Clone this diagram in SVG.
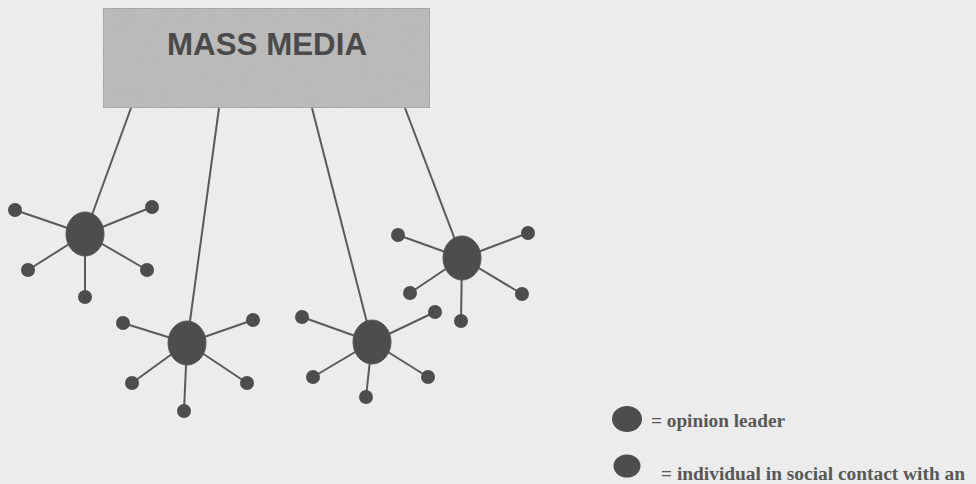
<svg xmlns="http://www.w3.org/2000/svg" width="976" height="484" viewBox="0 0 976 484">
<defs>
<filter id="tex" x="0" y="0" width="100%" height="100%">
<feTurbulence type="fractalNoise" baseFrequency="0.8" numOctaves="2" seed="3" result="n"/>
<feColorMatrix in="n" type="matrix" values="0 0 0 0 0.5  0 0 0 0 0.5  0 0 0 0 0.5  0.9 0 0 0 -0.25" result="g"/>
<feComposite in="g" in2="SourceGraphic" operator="in" result="gc"/>
<feMerge><feMergeNode in="SourceGraphic"/><feMergeNode in="gc"/></feMerge>
</filter>
<filter id="soft"><feGaussianBlur stdDeviation="0.6"/></filter>
</defs>
<style>
.ln{stroke:#5a5a5a;stroke-width:2;fill:none}
.leader{fill:#4e4e4e;stroke:#555;stroke-width:1}
.sat{fill:#4e4e4e}
.lbl{font-family:"Liberation Serif","Times New Roman",serif;font-weight:bold;font-size:18px;fill:#585858}
.title{font-family:"Liberation Sans",Arial,sans-serif;font-weight:bold;font-size:32px;fill:#4a4a4a}
</style>
<rect width="976" height="484" fill="#ececec"/>

<g id="connectors">
<line class="ln" x1="131" y1="108" x2="85" y2="234"/>
<line class="ln" x1="219" y1="108" x2="187" y2="343"/>
<line class="ln" x1="312" y1="108" x2="372" y2="342"/>
<line class="ln" x1="405" y1="108" x2="462" y2="258"/>
</g>

<g id="mass-media">
<rect x="103" y="8" width="327" height="100" fill="#bababa" stroke="#9a9a9a" stroke-width="1.5" filter="url(#tex)"/>
<text class="title" x="167" y="55" textLength="200" lengthAdjust="spacingAndGlyphs">MASS MEDIA</text>
</g>

<g id="cluster1" filter="url(#soft)">
<g class="ln">
<line x1="85" y1="234" x2="15" y2="210"/>
<line x1="85" y1="234" x2="152" y2="207"/>
<line x1="85" y1="234" x2="28" y2="270"/>
<line x1="85" y1="234" x2="147" y2="270"/>
<line x1="85" y1="234" x2="85" y2="297"/>
</g>
<ellipse class="leader" cx="85" cy="234" rx="19" ry="22"/>
<circle class="sat" cx="15" cy="210" r="7"/>
<circle class="sat" cx="152" cy="207" r="7"/>
<circle class="sat" cx="28" cy="270" r="7"/>
<circle class="sat" cx="147" cy="270" r="7"/>
<circle class="sat" cx="85" cy="297" r="7"/>
</g>

<g id="cluster2" filter="url(#soft)">
<g class="ln">
<line x1="187" y1="343" x2="123" y2="323"/>
<line x1="187" y1="343" x2="253" y2="320"/>
<line x1="187" y1="343" x2="132" y2="383"/>
<line x1="187" y1="343" x2="247" y2="383"/>
<line x1="187" y1="343" x2="184" y2="411"/>
</g>
<ellipse class="leader" cx="187" cy="343" rx="19" ry="22"/>
<circle class="sat" cx="123" cy="323" r="7"/>
<circle class="sat" cx="253" cy="320" r="7"/>
<circle class="sat" cx="132" cy="383" r="7"/>
<circle class="sat" cx="247" cy="383" r="7"/>
<circle class="sat" cx="184" cy="411" r="7"/>
</g>

<g id="cluster3" filter="url(#soft)">
<g class="ln">
<line x1="372" y1="342" x2="302" y2="317"/>
<line x1="372" y1="342" x2="435" y2="312"/>
<line x1="372" y1="342" x2="313" y2="377"/>
<line x1="372" y1="342" x2="428" y2="377"/>
<line x1="372" y1="342" x2="366" y2="397"/>
</g>
<ellipse class="leader" cx="372" cy="342" rx="19" ry="22"/>
<circle class="sat" cx="302" cy="317" r="7"/>
<circle class="sat" cx="435" cy="312" r="7"/>
<circle class="sat" cx="313" cy="377" r="7"/>
<circle class="sat" cx="428" cy="377" r="7"/>
<circle class="sat" cx="366" cy="397" r="7"/>
</g>

<g id="cluster4" filter="url(#soft)">
<g class="ln">
<line x1="462" y1="258" x2="398" y2="235"/>
<line x1="462" y1="258" x2="528" y2="233"/>
<line x1="462" y1="258" x2="410" y2="293"/>
<line x1="462" y1="258" x2="522" y2="294"/>
<line x1="462" y1="258" x2="461" y2="321"/>
</g>
<ellipse class="leader" cx="462" cy="258" rx="19" ry="22"/>
<circle class="sat" cx="398" cy="235" r="7"/>
<circle class="sat" cx="528" cy="233" r="7"/>
<circle class="sat" cx="410" cy="293" r="7"/>
<circle class="sat" cx="522" cy="294" r="7"/>
<circle class="sat" cx="461" cy="321" r="7"/>
</g>

<g id="legend-leader">
<ellipse cx="627" cy="419" rx="15" ry="13" fill="#4e4e4e" filter="url(#soft)"/>
<text class="lbl" x="651" y="427" textLength="134" lengthAdjust="spacingAndGlyphs">= opinion leader</text>
</g>
<g id="legend-individual">
<ellipse cx="627" cy="466" rx="13.5" ry="11.5" fill="#4e4e4e" filter="url(#soft)"/>
<text class="lbl" x="661" y="480" textLength="304" lengthAdjust="spacingAndGlyphs">= individual in social contact with an</text>
</g>
</svg>
